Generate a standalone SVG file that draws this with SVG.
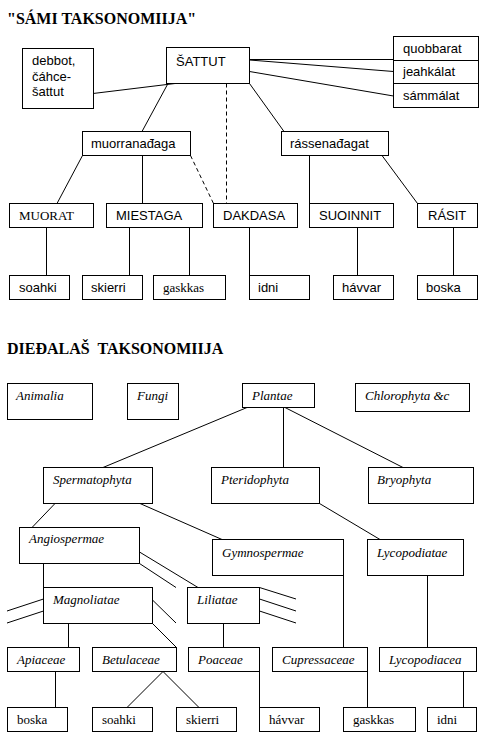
<svg xmlns="http://www.w3.org/2000/svg" width="487" height="744" viewBox="0 0 487 744">
<style>
rect{fill:#fff;stroke:#000;stroke-width:1}
line{stroke:#000;stroke-width:1}
.d{stroke-dasharray:4 3}
text{fill:#000}
.s{font-family:"Liberation Sans",Arial,sans-serif;font-size:13px}
.r{font-family:"Liberation Serif","Times New Roman",serif;font-size:13px}
.i{font-family:"Liberation Serif","Times New Roman",serif;font-size:13px;font-style:italic}
.t{font-family:"Liberation Serif","Times New Roman",serif;font-size:16px;font-weight:bold}
</style>
<rect x="0" y="0" width="487" height="744" style="stroke:none"/>
<text class="t" x="7" y="24">"SÁMI TAKSONOMIIJA"</text>
<text class="t" x="7" y="354" xml:space="preserve">DIEĐALAŠ  TAKSONOMIIJA</text>
<g id="connectors">
<line x1="93" y1="93.5" x2="175" y2="83.5"/>
<line x1="168" y1="83.5" x2="142" y2="131.5"/>
<line class="d" x1="226.5" y1="83.5" x2="226.5" y2="203.5"/>
<line x1="249.5" y1="59.5" x2="393.5" y2="59.5"/>
<line x1="249.5" y1="60" x2="393.5" y2="71.5"/>
<line x1="249.5" y1="71.5" x2="393.5" y2="96"/>
<line x1="249.5" y1="83.5" x2="284" y2="131.5"/>
<line x1="82.5" y1="155.5" x2="57" y2="203.5"/>
<line x1="142.5" y1="155.5" x2="142.5" y2="203.5"/>
<line class="d" x1="190.5" y1="155.5" x2="213.5" y2="203.5"/>
<line x1="309.5" y1="155.5" x2="309.5" y2="203.5"/>
<line x1="382" y1="155.5" x2="417.5" y2="203.5"/>
<line x1="46.5" y1="227.5" x2="46.5" y2="275.5"/>
<line x1="129.5" y1="227.5" x2="129.5" y2="275.5"/>
<line x1="189.5" y1="227.5" x2="189.5" y2="275.5"/>
<line x1="249.5" y1="227.5" x2="249.5" y2="275.5"/>
<line x1="357.5" y1="227.5" x2="357.5" y2="275.5"/>
<line x1="453.5" y1="227.5" x2="453.5" y2="275.5"/>
<line x1="247" y1="407.5" x2="103" y2="467.5"/>
<line x1="283.5" y1="407.5" x2="283.5" y2="467.5"/>
<line x1="285" y1="407.5" x2="403" y2="467.5"/>
<line x1="55" y1="503.5" x2="32" y2="527.5"/>
<line x1="140" y1="503.5" x2="222" y2="539.5"/>
<line x1="319.5" y1="503.5" x2="380" y2="539.5"/>
<line x1="139.5" y1="552" x2="198" y2="587.5"/>
<line x1="139.5" y1="563.5" x2="176" y2="587.5"/>
<line x1="43.5" y1="563.5" x2="43.5" y2="587.5"/>
<line x1="43.5" y1="599" x2="7" y2="611"/>
<line x1="43.5" y1="611" x2="7" y2="623"/>
<line x1="152.5" y1="600" x2="176" y2="623"/>
<line x1="152.5" y1="623.5" x2="176.5" y2="647.5"/>
<line x1="259.5" y1="587.5" x2="296" y2="599"/>
<line x1="259.5" y1="599" x2="296" y2="611"/>
<line x1="259.5" y1="611" x2="296" y2="623"/>
<line x1="68.5" y1="623.5" x2="68.5" y2="647.5"/>
<line x1="223.5" y1="623.5" x2="223.5" y2="647.5"/>
<line x1="343.5" y1="575.5" x2="343.5" y2="647.5"/>
<line x1="427.5" y1="575.5" x2="427.5" y2="647.5"/>
<line x1="55.5" y1="671.5" x2="55.5" y2="707.5"/>
<line x1="163" y1="671.5" x2="127" y2="707.5"/>
<line x1="163" y1="671.5" x2="199" y2="707.5"/>
<line x1="259.5" y1="671.5" x2="259.5" y2="707.5"/>
<line x1="367.5" y1="671.5" x2="367.5" y2="707.5"/>
<line x1="463.5" y1="671.5" x2="463.5" y2="707.5"/>
</g>
<g id="debbot"><rect x="22.5" y="48.5" width="71" height="60"/><text class="s" x="32" y="65">debbot,</text><text class="s" x="32" y="81">čáhce-</text><text class="s" x="32" y="96">šattut</text></g>
<g id="sattut"><rect x="166.5" y="47.5" width="83" height="36"/><text class="s" x="176" y="66">ŠATTUT</text></g>
<g id="bargu"><rect x="393.5" y="36.5" width="85" height="71"/><line x1="393.5" y1="60.5" x2="478.5" y2="60.5"/><line x1="393.5" y1="83.5" x2="478.5" y2="83.5"/><text class="s" x="403" y="53">quobbarat</text><text class="s" x="403" y="76">jeahkálat</text><text class="s" x="403" y="100">sámmálat</text></g>
<g id="muorranadaga"><rect x="82.5" y="131.5" width="108" height="24"/><text class="s" x="91" y="148">muorranađaga</text></g>
<g id="rassenadagat"><rect x="281.5" y="131.5" width="107" height="24"/><text class="s" x="290" y="148">rássenađagat</text></g>
<g id="muorat"><rect x="9.5" y="203.5" width="84" height="24"/><text class="r" x="19" y="220">MUORAT</text></g>
<g id="miestaga"><rect x="106.5" y="203.5" width="96" height="24"/><text class="s" x="116" y="220">MIESTAGA</text></g>
<g id="dakdasa"><rect x="213.5" y="203.5" width="84" height="24"/><text class="s" x="223" y="220">DAKDASA</text></g>
<g id="suoinnit"><rect x="309.5" y="203.5" width="84" height="24"/><text class="s" x="319" y="220">SUOINNIT</text></g>
<g id="rasit"><rect x="417.5" y="203.5" width="60" height="24"/><text class="s" x="428" y="220">RÁSIT</text></g>
<g id="soahki1"><rect x="9.5" y="275.5" width="60" height="24"/><text class="s" x="19" y="292">soahki</text></g>
<g id="skierri1"><rect x="82.5" y="275.5" width="60" height="24"/><text class="s" x="91" y="292">skierri</text></g>
<g id="gaskkas1"><rect x="153.5" y="275.5" width="72" height="24"/><text class="r" x="163" y="292">gaskkas</text></g>
<g id="idni1"><rect x="249.5" y="275.5" width="60" height="24"/><text class="s" x="258" y="292">idni</text></g>
<g id="havvar1"><rect x="333.5" y="275.5" width="60" height="24"/><text class="s" x="342" y="292">hávvar</text></g>
<g id="boska1"><rect x="417.5" y="275.5" width="60" height="24"/><text class="s" x="426" y="292">boska</text></g>
<g id="animalia"><rect x="7.5" y="383.5" width="85" height="36"/><text class="i" x="16" y="400">Animalia</text></g>
<g id="fungi"><rect x="127.5" y="383.5" width="51" height="36"/><text class="i" x="137" y="400">Fungi</text></g>
<g id="plantae"><rect x="242.5" y="383.5" width="72" height="24"/><text class="i" x="252" y="400">Plantae</text></g>
<g id="chlorophyta"><rect x="355.5" y="383.5" width="114" height="28"/><text class="i" x="365" y="400">Chlorophyta &amp;c</text></g>
<g id="spermatophyta"><rect x="43.5" y="467.5" width="109" height="36"/><text class="i" x="53" y="484">Spermatophyta</text></g>
<g id="pteridophyta"><rect x="211.5" y="467.5" width="108" height="36"/><text class="i" x="221" y="484">Pteridophyta</text></g>
<g id="bryophyta"><rect x="368.5" y="467.5" width="105" height="36"/><text class="i" x="377" y="484">Bryophyta</text></g>
<g id="angiospermae"><rect x="19.5" y="527.5" width="120" height="36"/><text class="i" x="29" y="543">Angiospermae</text></g>
<g id="gymnospermae"><rect x="212.5" y="539.5" width="131" height="36"/><text class="i" x="222" y="557">Gymnospermae</text></g>
<g id="lycopodiatae"><rect x="367.5" y="539.5" width="96" height="36"/><text class="i" x="377" y="557">Lycopodiatae</text></g>
<g id="magnoliatae"><rect x="43.5" y="587.5" width="109" height="36"/><text class="i" x="53" y="604">Magnoliatae</text></g>
<g id="liliatae"><rect x="187.5" y="587.5" width="72" height="36"/><text class="i" x="197" y="604">Liliatae</text></g>
<g id="apiaceae"><rect x="7.5" y="647.5" width="72" height="24"/><text class="i" x="17" y="664">Apiaceae</text></g>
<g id="betulaceae"><rect x="92.5" y="647.5" width="84" height="24"/><text class="i" x="102" y="664">Betulaceae</text></g>
<g id="poaceae"><rect x="188.5" y="647.5" width="71" height="24"/><text class="i" x="198" y="664">Poaceae</text></g>
<g id="cupressaceae"><rect x="272.5" y="647.5" width="95" height="24"/><text class="i" x="282" y="664">Cupressaceae</text></g>
<g id="lycopodiacea"><rect x="379.5" y="647.5" width="97" height="24"/><text class="i" x="389" y="664">Lycopodiacea</text></g>
<g id="boska2"><rect x="7.5" y="707.5" width="60" height="24"/><text class="r" x="17" y="724">boska</text></g>
<g id="soahki2"><rect x="92.5" y="707.5" width="60" height="24"/><text class="r" x="102" y="724">soahki</text></g>
<g id="skierri2"><rect x="176.5" y="707.5" width="60" height="24"/><text class="r" x="186" y="724">skierri</text></g>
<g id="havvar2"><rect x="259.5" y="707.5" width="60" height="24"/><text class="r" x="269" y="724">hávvar</text></g>
<g id="gaskkas2"><rect x="343.5" y="707.5" width="72" height="24"/><text class="r" x="353" y="724">gaskkas</text></g>
<g id="idni2"><rect x="427.5" y="707.5" width="49" height="24"/><text class="r" x="437" y="724">idni</text></g>
</svg>
